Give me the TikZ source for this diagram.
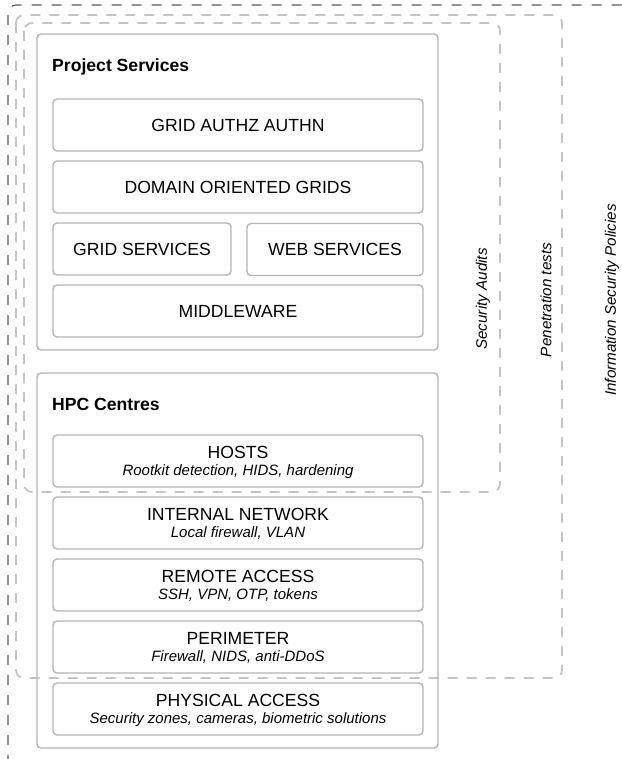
\documentclass[tikz,border=0pt]{standalone}
\usepackage{fontspec}
\setmainfont{Liberation Sans}
\usetikzlibrary{calc}
\begin{document}
\begin{tikzpicture}[x=1pt,y=-1pt,
  box/.style={draw=boxgray,line width=1.4pt,rounded corners=4pt,inner sep=0pt,
    text height=12.6pt,text depth=0pt,font=\fontsize{17.6}{20}\selectfont},
  inbox/.style={box,minimum height=52pt},
  titletext/.style={anchor=base west,inner sep=0pt,font=\fontsize{17.6}{20}\selectfont\bfseries},
  headtext/.style={anchor=base,inner sep=0pt,font=\fontsize{17.6}{20}\selectfont},
  subtext/.style={anchor=base,inner sep=0pt,font=\fontsize{15}{18}\selectfont\itshape},
  sidetext/.style={rotate=90,inner sep=0pt,font=\fontsize{15.2}{18}\selectfont\itshape},
  darkdash/.style={draw=darkgray,line width=1.1pt,dash pattern=on 10pt off 10pt,rounded corners=8pt},
  lightdash/.style={draw=lightgray,line width=1.8pt,dash pattern=on 10pt off 9pt,rounded corners=8pt}
]
\definecolor{boxgray}{HTML}{B4B4B4}
\definecolor{darkgray}{HTML}{5A5A5A}
\definecolor{lightgray}{HTML}{C4C4C4}
\useasboundingbox (0,0) rectangle (621,759);

% dashed enclosures
\draw[darkdash] (8,765) -- (8,5) -- (630,5);
\draw[lightdash] (16,15) rectangle (562,678);
\draw[lightdash] (24,23) rectangle (500,492);

% Project Services
\node[box,minimum width=401pt,minimum height=316pt] (ps) at (237.5,192) {};
\node[titletext] (pst) at (52,72) {Project Services};
\node[inbox,minimum width=370pt] (authz) at (238,125) {GRID AUTHZ AUTHN};
\node[inbox,minimum width=370pt] (dog) at (238,187) {DOMAIN ORIENTED GRIDS};
\node[inbox,minimum width=178pt] (gs) at (142,249) {GRID SERVICES};
\node[inbox,minimum width=176pt] (ws) at (335,249.5) {WEB SERVICES};
\node[inbox,minimum width=370pt] (mw) at (238,311) {MIDDLEWARE};

% HPC Centres
\node[box,minimum width=401pt,minimum height=375pt] (hpc) at (237.5,560.5) {};
\node[titletext] (hpct) at (52,410) {HPC Centres};

\node[inbox,minimum width=370pt] (hosts) at (238,461) {};
\node[headtext] (hostsa) at ($(hosts.center)+(0,-2.5)$) {HOSTS};
\node[subtext] (hostsb) at ($(hosts.center)+(0,14.5)$) {Rootkit detection, HIDS, hardening};

\node[inbox,minimum width=370pt] (inet) at (238,523) {};
\node[headtext] (ineta) at ($(inet.center)+(0,-2.5)$) {INTERNAL NETWORK};
\node[subtext] (inetb) at ($(inet.center)+(0,14.5)$) {Local firewall, VLAN};

\node[inbox,minimum width=370pt] (ra) at (238,585) {};
\node[headtext] (raa) at ($(ra.center)+(0,-2.5)$) {REMOTE ACCESS};
\node[subtext] (rab) at ($(ra.center)+(0,14.5)$) {SSH, VPN, OTP, tokens};

\node[inbox,minimum width=370pt] (per) at (238,647) {};
\node[headtext] (pera) at ($(per.center)+(0,-2.5)$) {PERIMETER};
\node[subtext] (perb) at ($(per.center)+(0,14.5)$) {Firewall, NIDS, anti-DDoS};

\node[inbox,minimum width=370pt] (phy) at (238,709) {};
\node[headtext] (phya) at ($(phy.center)+(0,-2.5)$) {PHYSICAL ACCESS};
\node[subtext] (phyb) at ($(phy.center)+(0,14.5)$) {Security zones, cameras, biometric solutions};

% side labels
\node[sidetext] (sa) at (483,299) {Security Audits};
\node[sidetext] (pt) at (546,300) {Penetration tests};
\node[sidetext] (isp) at (612,300) {Information Security Policies};
\end{tikzpicture}
\end{document}
